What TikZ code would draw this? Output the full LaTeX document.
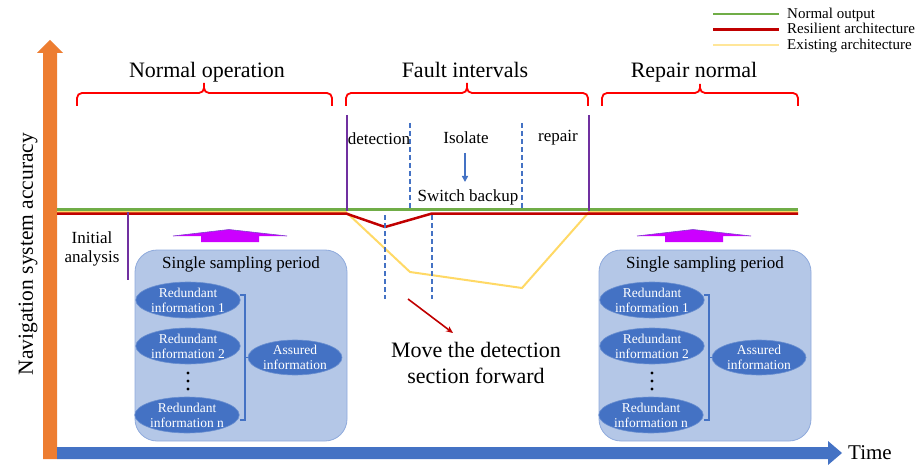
\documentclass[tikz,border=0pt]{standalone}
\usepackage{fontspec}
\setmainfont{Liberation Serif}
\usetikzlibrary{shapes.geometric,arrows.meta}
\definecolor{axorange}{HTML}{ED7D31}
\definecolor{axblue}{HTML}{4472C4}
\definecolor{lgreen}{HTML}{70AD47}
\definecolor{lred}{HTML}{C00000}
\definecolor{lyellow}{HTML}{FFD966}
\definecolor{legyellow}{HTML}{FFE699}
\definecolor{brred}{HTML}{FF0000}
\definecolor{purp}{HTML}{7030A0}
\definecolor{boxfill}{HTML}{B4C7E7}
\definecolor{boxline}{HTML}{8FAADC}
\definecolor{ellfill}{HTML}{4472C4}
\definecolor{ellline}{HTML}{6A8FD0}
\definecolor{magent}{HTML}{CC00FF}
\definecolor{headline}{HTML}{7F3FCF}
\begin{document}
\begin{tikzpicture}[x=1pt,y=-1pt,
  title/.style={font=\fontsize{22}{26}\selectfont, anchor=base, inner sep=0},
  lbl/.style={font=\fontsize{17}{19}\selectfont, align=center, inner sep=0},
  legtext/.style={font=\fontsize{15}{16}\selectfont, anchor=base west, inner sep=0},
  legline/.style={line width=2.5pt},
  brc/.style={draw=brred, line width=1.8pt, rounded corners=5pt},
  phase/.style={draw=purp, line width=1.5pt},
  dsh/.style={draw=axblue, line width=1.3pt, dash pattern=on 5pt off 3pt},
  sbox/.style={draw=boxline, fill=boxfill, line width=0.8pt, rounded corners=22pt, minimum width=212pt, minimum height=191pt, inner sep=0},
  ell/.style={ellipse, draw=ellline, fill=ellfill, line width=0.6pt, text=white,
    font=\fontsize{13.5}{15}\selectfont, align=center, inner xsep=0pt, inner ysep=-1.5pt,
    minimum width=102pt, minimum height=36pt},
  brk/.style={draw=axblue, line width=1.2pt},
  upmark/.style={fill=magent},
]
\useasboundingbox (0,0) rectangle (923,465);

% axes
\fill[axorange] (43,459) -- (43,53) -- (37,53) -- (50,40) -- (63,53) -- (57,53) -- (57,459) -- cycle;
\fill[axblue] (57,447) -- (828,447) -- (828,441) -- (842,453) -- (828,465) -- (828,459) -- (57,459) -- cycle;
\node[rotate=90, font=\fontsize{21.5}{24}\selectfont] (ylab) at (28,254) {Navigation system accuracy};
\node[font=\fontsize{21}{24}\selectfont] (xlab) at (870,453) {Time};

% legend
\coordinate (lg1a) at (713,14);   \coordinate (lg1b) at (779,14);
\coordinate (lg2a) at (713,29.5); \coordinate (lg2b) at (779,29.5);
\coordinate (lg3a) at (713,45);   \coordinate (lg3b) at (779,45);
\draw[legline, lgreen] (lg1a) -- (lg1b);
\draw[legline, lred] (lg2a) -- (lg2b);
\draw[legline, legyellow] (lg3a) -- (lg3b);
\node[legtext] (lt1) at (787,18.5) {Normal output};
\node[legtext] (lt2) at (787,34) {Resilient architecture};
\node[legtext] (lt3) at (787,49.5) {Existing architecture};

% titles
\node[title] (t1) at (207,78) {Normal operation};
\node[title] (t2) at (465,78) {Fault intervals};
\node[title] (t3) at (694,78) {Repair normal};

% braces
\draw[brc] (77,106) -- (77,93) -- (204,93) -- (204,83) (204,83) -- (204,93) -- (332,93) -- (332,106);
\draw[brc] (346,106) -- (346,93) -- (467,93) -- (467,83) (467,83) -- (467,93) -- (588,93) -- (588,106);
\draw[brc] (602,106) -- (602,93) -- (700,93) -- (700,84) (700,84) -- (700,93) -- (798,93) -- (798,106);

% output lines
\draw[lgreen, line width=3.5pt] (57,209.5) -- (798,209.5);
\draw[lyellow, line width=2pt] (57,212) -- (346,212) -- (410,272) -- (522,288) -- (589,212) -- (798,212);
\draw[lred, line width=2.5pt, line join=round] (57,213.5) -- (346,213.5) -- (385,227) -- (432,213.5) -- (798,213.5);

% phase markers
\draw[phase] (347,115) -- (347,211);
\draw[phase] (589,115) -- (589,211);
\draw[phase] (128,212) -- (128,280);
\draw[dsh] (410,123) -- (410,209);
\draw[dsh] (522,123) -- (522,209);
\draw[dsh] (385,215) -- (385,299);
\draw[dsh] (432,215) -- (432,299);

% fault interval texts
\node[lbl, anchor=base] (det) at (379,145) {detection};
\node[lbl, anchor=base] (iso) at (466,144) {Isolate};
\node[lbl, anchor=base] (rep) at (558,142) {repair};
\node[lbl, anchor=base] (swb) at (468,201) {Switch backup};
\coordinate (isoa) at (465,153);
\coordinate (swba) at (465,182);
\draw[axblue, line width=1.8pt, -{Triangle[length=6pt,width=6pt]}] (isoa) -- (swba);

\node[lbl] (init) at (92,249) {Initial\\analysis};

% move detection
\node[font=\fontsize{22}{26}\selectfont, align=center, inner sep=0] (move) at (476,363) {Move the detection\\section forward};
\coordinate (ra) at (408,299);
\coordinate (rb) at (453,333);
\draw[lred, line width=1.6pt, -{Stealth[length=7pt,width=6pt]}] (ra) -- (rb);

% sampling boxes
\foreach \p/\dx in {L/0,R/464}{
\begin{scope}[xshift=\dx]
  \fill[upmark] (173,236) -- (229,229.5) -- (287,236) -- (259,236) -- (259,242) -- (201,242) -- (201,236) -- cycle;
  \draw[headline, line width=0.6pt, line join=round] (173,236) -- (229,229.5) -- (287,236);
  \node[sbox] (\p box) at (241,345.5) {};
  \node[font=\fontsize{17}{19}\selectfont, anchor=base, inner sep=0] (\p ttl) at (241,268) {Single sampling period};
  \node[ell] (\p e1) at (188,300) {Redundant\\information 1};
  \node[ell] (\p e2) at (188,346) {Redundant\\information 2};
  \node[ell] (\p en) at (187,415) {Redundant\\information n};
  \node[ell, minimum width=94pt, minimum height=35pt] (\p as) at (295,357.5) {Assured\\information};
  \fill (188,373) circle (1.6) (188,381) circle (1.6) (188,389) circle (1.6);
  \coordinate (\p bt) at (240,295);
  \coordinate (\p bb) at (240,420);
  \draw[brk] (\p bt) -- ++(5,0) |- (\p bb);
  \draw[brk] (245,357.5) -- (\p as.west);
\end{scope}
}
\end{tikzpicture}
\end{document}
